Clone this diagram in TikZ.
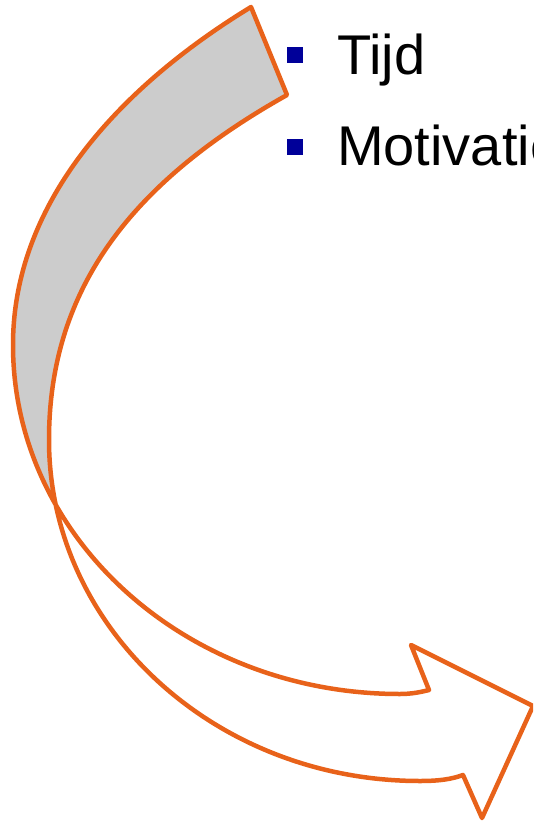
\documentclass[tikz,border=0pt]{standalone}
\usepackage{fontspec}
\setmainfont{Liberation Sans}
\definecolor{arroworange}{RGB}{232,98,26}
\definecolor{backgrey}{RGB}{204,204,204}
\definecolor{bulletblue}{RGB}{0,0,153}
\begin{document}
\begin{tikzpicture}[x=1pt,y=-1pt,
    edge/.style={draw=arroworange,line width=4.5pt,line join=round},
    bul/.style={fill=bulletblue,minimum size=16pt,inner sep=0pt},
    item/.style={font=\fontsize{56}{60}\selectfont,inner sep=0pt,anchor=base west}]
    \useasboundingbox (0,0) rectangle (533,822);
    \clip (0,0) rectangle (533,822);

    \coordinate (ta) at (251,7);
    \coordinate (tb) at (287,95);
    \coordinate (cross) at (57,517);
    \coordinate (ha) at (429,690);
    \coordinate (hb) at (463,775);
    \coordinate (tipa) at (411,645);
    \coordinate (tip) at (533,706);
    \coordinate (tipb) at (482,818);

    % curved arrow, back part grey above the crossing
    \draw[edge,path picture={\fill[backgrey] (path picture bounding box.north west) rectangle (path picture bounding box.east |- cross);}]
        (ta) .. controls (123,85) and (13,200) .. (13,345)
        .. controls (13,538) and (186,694) .. (400,694)
        .. controls (412,694) and (421,692) .. (ha)
        -- (tipa) -- (tip) -- (tipb) -- (hb)
        .. controls (452,779) and (440,781) .. (420,781)
        .. controls (215,781) and (49,628) .. (49,440)
        .. controls (49,290) and (130,183) .. (tb) -- cycle;

    \node[bul] (b1) at (295,55) {};
    \node[item] (t1) at (337,74) {Tijd};
    \node[bul] (b2) at (295,146.5) {};
    \node[item] (t2) at (337,165) {Motivatie};
\end{tikzpicture}
\end{document}
